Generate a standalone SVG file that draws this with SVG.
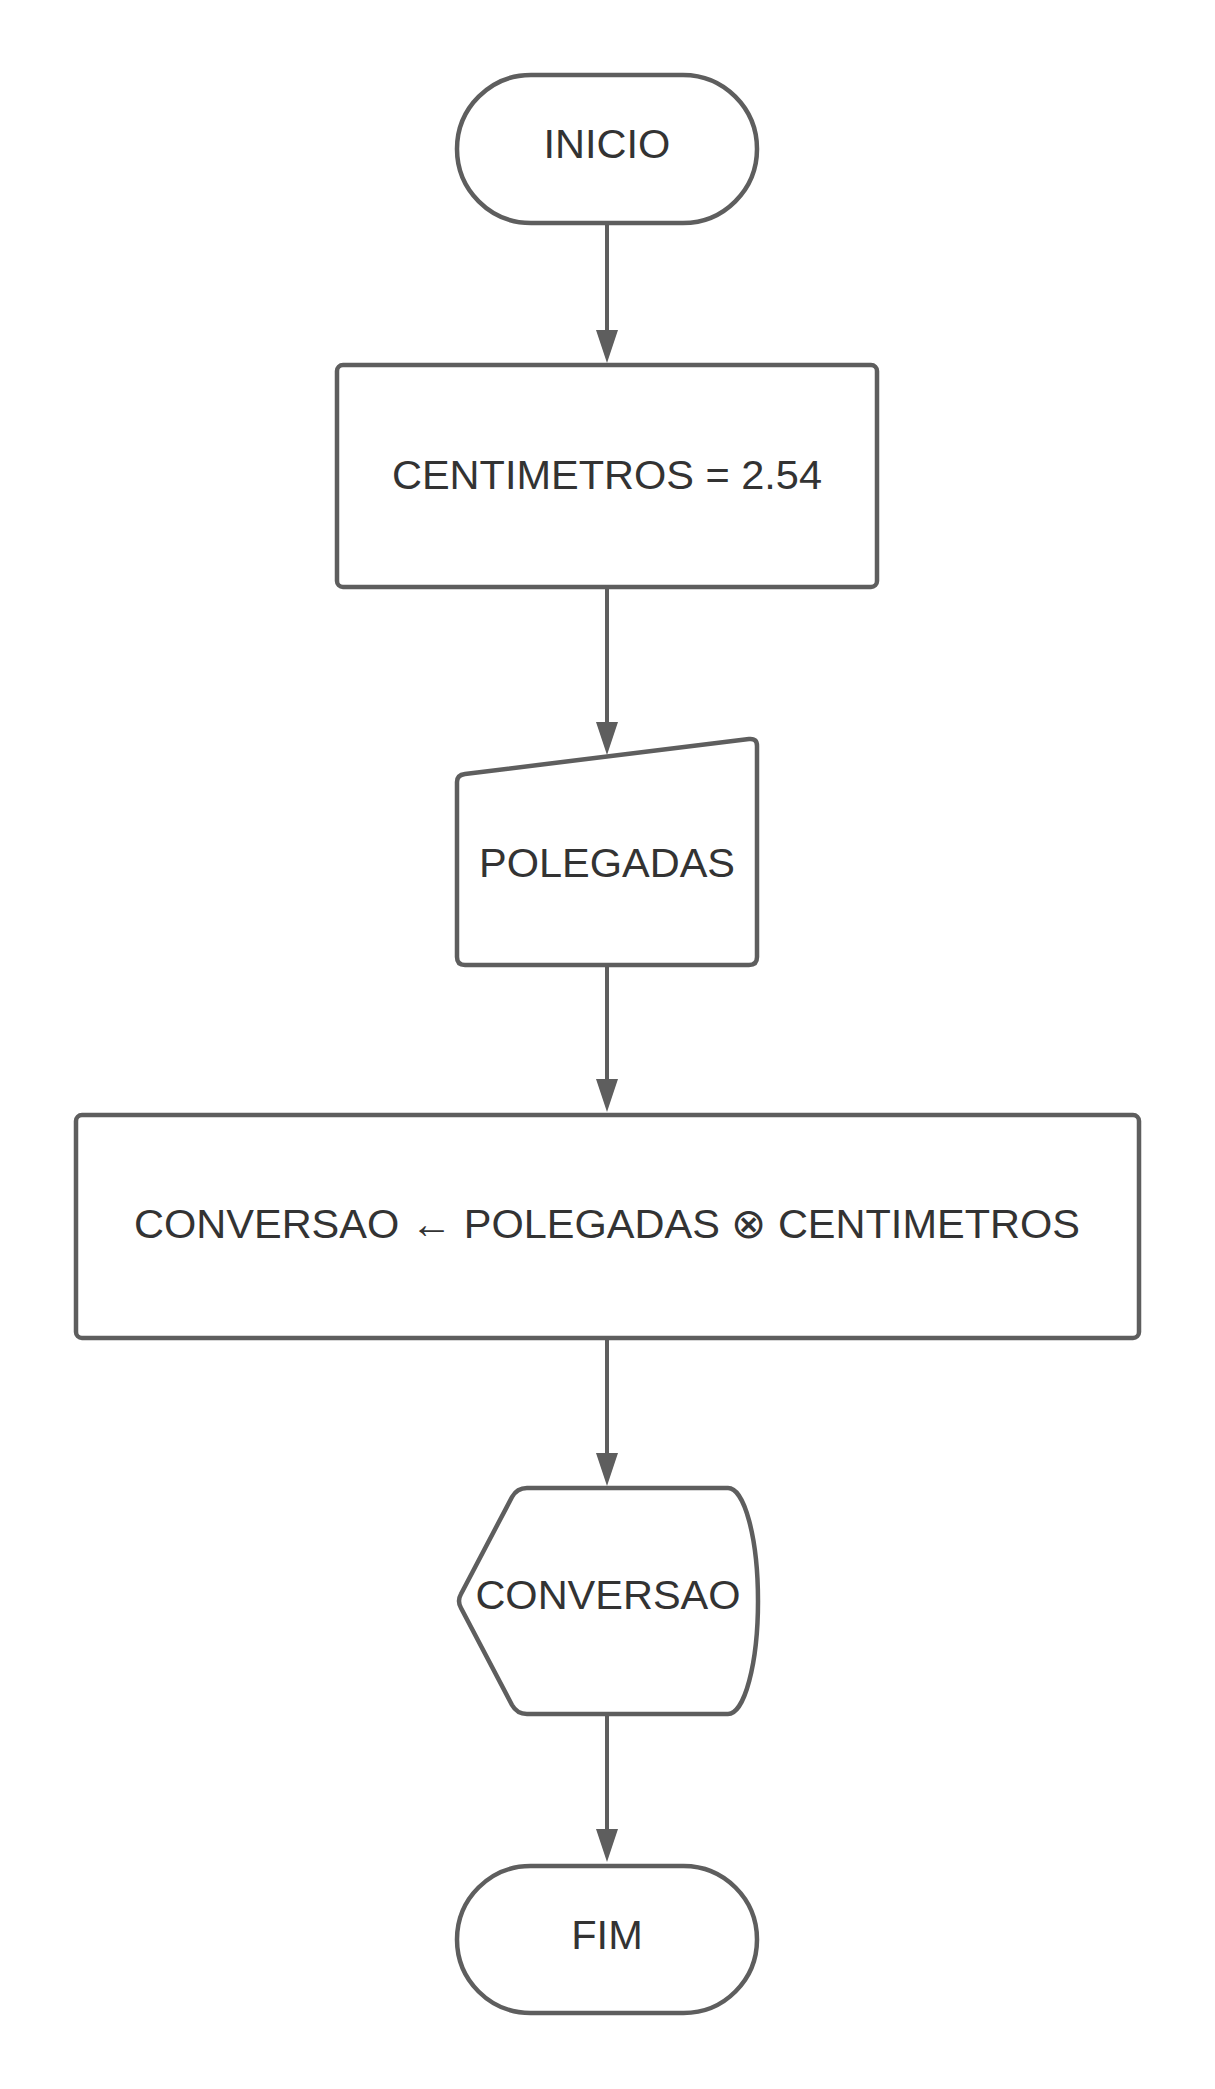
<svg xmlns="http://www.w3.org/2000/svg" width="1215" height="2089" viewBox="0 0 1215 2089">
<defs>
<style>
.shape{fill:#ffffff;stroke:#5e5e5e;stroke-width:4.5;stroke-linejoin:round}
.conn{fill:none;stroke:#5e5e5e;stroke-width:4}
.lbl{font-family:"Liberation Sans",Arial,sans-serif;font-size:41.5px;fill:#333333;text-anchor:middle}
</style>
<marker id="ah" markerUnits="userSpaceOnUse" viewBox="0 0 33 22" markerWidth="33" markerHeight="22" refX="23" refY="11" orient="auto">
<path d="M0,0 L33,11 L0,22 Z" fill="#5e5e5e"/>
</marker>
</defs>
<rect width="1215" height="2089" fill="#ffffff"/>
<g id="connectors">
<line class="conn" x1="607" y1="225" x2="607" y2="353" marker-end="url(#ah)"/>
<line class="conn" x1="607" y1="589" x2="607" y2="745" marker-end="url(#ah)"/>
<line class="conn" x1="607" y1="967" x2="607" y2="1102" marker-end="url(#ah)"/>
<line class="conn" x1="607" y1="1340" x2="607" y2="1476" marker-end="url(#ah)"/>
<line class="conn" x1="607" y1="1716" x2="607" y2="1852" marker-end="url(#ah)"/>
</g>
<g id="inicio">
<rect class="shape" x="457" y="75" width="300" height="148" rx="74" ry="74"/>
<text class="lbl" x="607" y="158">INICIO</text>
</g>
<g id="centimetros">
<rect class="shape" x="337" y="365" width="540" height="222" rx="6" ry="6"/>
<text class="lbl" x="607" y="489">CENTIMETROS = 2.54</text>
</g>
<g id="polegadas">
<path class="shape" d="M465,774 L749,739 Q757,738 757,746 L757,957 Q757,965 749,965 L465,965 Q457,965 457,957 L457,782 Q457,775 465,774 Z"/>
<text class="lbl" x="607" y="877">POLEGADAS</text>
</g>
<g id="conversao-calc">
<rect class="shape" x="76" y="1115" width="1063" height="223" rx="6" ry="6"/>
<text class="lbl" x="607" y="1238">CONVERSAO ← POLEGADAS ⊗ CENTIMETROS</text>
</g>
<g id="conversao-out">
<path class="shape" d="M461,1594 L512,1497 Q517,1488 527,1488 L728,1488 A30,113 0 0 1 728,1714 L527,1714 Q517,1714 512,1705 L461,1608 Q457,1601 461,1594 Z"/>
<text class="lbl" x="608" y="1609">CONVERSAO</text>
</g>
<g id="fim">
<rect class="shape" x="457" y="1866" width="300" height="147" rx="73.5" ry="73.5"/>
<text class="lbl" x="607" y="1949">FIM</text>
</g>
</svg>
